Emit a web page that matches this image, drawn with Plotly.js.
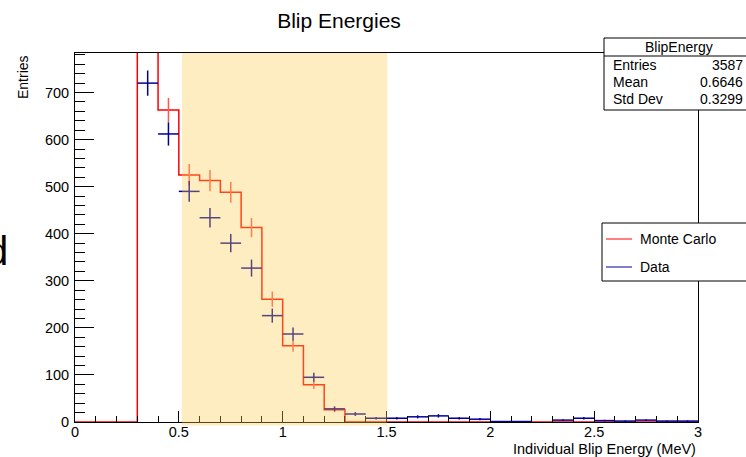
<!DOCTYPE html>
<html>
<head>
<meta charset="utf-8">
<script src="https://cdn.plot.ly/plotly-3.0.1.min.js"></script>
<style>html,body{margin:0;padding:0;background:#fff;}#chart{width:746px;height:457px;}</style>
</head>
<body>
<div id="chart"></div>
<script>
// ---- data ----
const binEdges = [0.0,0.1,0.2,0.3,0.4,0.5,0.6,0.7,0.8,0.9,1.0,1.1,1.2,1.3,1.4,1.5,1.6,1.7,1.8,1.9,2.0,2.1,2.2,2.3,2.4,2.5,2.6,2.7,2.8,2.9,3.0];
const binCenters = [0.05,0.15,0.25,0.35,0.45,0.55,0.65,0.75,0.85,0.95,1.05,1.15,1.25,1.35,1.45,1.55,1.65,1.75,1.85,1.95,2.05,2.15,2.25,2.35,2.45,2.55,2.65,2.75,2.85,2.95];
const monteCarlo = [0,0,0,1000,663,525,513,488,413,261,162,79,26,0,0,0,0,0,0,0,0,0,0,0,0,0,0,0,0,0];
const dataCounts = [null,null,null,720,612,490,434,380,327,226,187,95,28,17,8,8,11,13,8,6,1,1,null,4,8,3,2,4,2,2];
const xTickVals = [0,0.5,1,1.5,2,2.5,3];
const xTickText = ["0","0.5","1","1.5","2","2.5","3"];
const yTickVals = [0,100,200,300,400,500,600,700];
const yTickText = ["0","100","200","300","400","500","600","700"];
const statNames = ["Entries","Mean","Std Dev"];
const statValues = ["3587","0.6646","0.3299"];
const legendNames = ["Monte Carlo","Data"];

// ---- styles ----
const FONT = "'Liberation Sans', Arial, Helvetica, sans-serif";
const RED = "#ff0000";
const NAVY = "#000099";
const L = 75, T = 53, W = 623, H = 369;
const px = x => (x - L) / W;
const py = y => (T + H - y) / H;

// step line for MC built from bin edges
const mcStepY = monteCarlo.concat([monteCarlo[monteCarlo.length - 1]]);

const traces = [
  {
    type: "scatter", mode: "lines", x: binEdges, y: mcStepY,
    line: {shape: "hv", color: RED, width: 1.5}, showlegend: false, hoverinfo: "skip"
  },
  {
    type: "scatter", mode: "markers", x: binCenters,
    y: monteCarlo.map(v => v > 0 ? v : null),
    marker: {size: 1, color: "rgba(0,0,0,0)"},
    error_y: {type: "data", array: monteCarlo.map(v => Math.sqrt(v)), color: "#ff5555", thickness: 1.5, width: 0},
    showlegend: false, hoverinfo: "skip"
  },
  {
    type: "scatter", mode: "markers", x: binCenters, y: dataCounts,
    marker: {size: 1, color: "rgba(0,0,0,0)"},
    error_y: {type: "data", array: dataCounts.map(v => v == null ? 0 : Math.sqrt(v)), color: NAVY, thickness: 1.5, width: 0},
    error_x: {type: "constant", value: 0.05, color: NAVY, thickness: 1.5, width: 0},
    showlegend: false, hoverinfo: "skip"
  }
];

const shapes = [
  // highlighted band overlay
  {type: "rect", layer: "above", xref: "x", yref: "paper", x0: 0.515, x1: 1.504, y0: -0.0095, y1: 1.0,
   fillcolor: "rgb(252,203,72)", opacity: 0.345, line: {width: 0}},
  // stats box
  {type: "rect", xref: "paper", yref: "paper", x0: px(604), x1: px(754), y0: py(110), y1: py(38),
   fillcolor: "#ffffff", line: {color: "#000", width: 1}},
  {type: "line", xref: "paper", yref: "paper", x0: px(604), x1: px(754), y0: py(56), y1: py(56),
   line: {color: "#000", width: 1}},
  // legend box
  {type: "rect", xref: "paper", yref: "paper", x0: px(602), x1: px(800), y0: py(281), y1: py(223),
   fillcolor: "#ffffff", line: {color: "#000", width: 1}},
  {type: "line", xref: "paper", yref: "paper", x0: px(606), x1: px(632), y0: py(239), y1: py(239),
   line: {color: RED, width: 1}},
  {type: "line", xref: "paper", yref: "paper", x0: px(606), x1: px(632), y0: py(267), y1: py(267),
   line: {color: NAVY, width: 1}}
];

const ann = (text, x, y, xa, size, extra) => Object.assign({
  text: text, xref: "paper", yref: "paper", x: px(x), y: py(y), xanchor: xa, yanchor: "middle",
  showarrow: false, font: {family: FONT, size: size, color: "#000"}
}, extra || {});

const annotations = [
  ann("Entries", 23, 53, "center", 14, {textangle: -90, yanchor: "top"}),
  ann("Individual Blip Energy (MeV)", 698, 448.5, "right", 14.5),
  ann("BlipEnergy", 679, 47, "center", 14),
  ann(statNames[0], 611, 65, "left", 14),
  ann(statNames[1], 611, 82, "left", 14),
  ann(statNames[2], 611, 99.5, "left", 14),
  ann(statValues[0], 745, 65, "right", 14),
  ann(statValues[1], 745, 82, "right", 14),
  ann(statValues[2], 745, 99.5, "right", 14),
  ann(legendNames[0], 638, 239, "left", 14),
  ann(legendNames[1], 638, 267, "left", 14),
  ann("d", 10, 251, "right", 40)
];

const layout = {
  width: 746, height: 457,
  margin: {l: L, r: 746 - L - W, t: T, b: 457 - T - H, pad: 0},
  paper_bgcolor: "#fff", plot_bgcolor: "#fff",
  title: {text: "Blip Energies", xref: "container", yref: "container", x: 339 / 746, xanchor: "center",
          y: 1 - 20.5 / 457, yanchor: "middle", font: {family: FONT, size: 21, color: "#000"}},
  xaxis: {
    range: [0, 3], tickvals: xTickVals, ticktext: xTickText,
    ticks: "inside", ticklen: 11, tickwidth: 1, tickcolor: "#000",
    minor: {dtick: 0.1, tick0: 0, ticks: "inside", ticklen: 6, tickwidth: 1, tickcolor: "#000", showgrid: false},
    showline: true, linecolor: "#000", linewidth: 1, mirror: true,
    showgrid: false, zeroline: false, fixedrange: true,
    tickfont: {family: FONT, size: 14.5, color: "#000"}, ticklabelstandoff: -3
  },
  yaxis: {
    range: [0, 784], tickvals: yTickVals, ticktext: yTickText,
    ticks: "inside", ticklen: 19, tickwidth: 1, tickcolor: "#000",
    minor: {dtick: 20, tick0: 0, ticks: "inside", ticklen: 10, tickwidth: 1, tickcolor: "#000", showgrid: false},
    showline: true, linecolor: "#000", linewidth: 1, mirror: true,
    showgrid: false, zeroline: false, fixedrange: true,
    tickfont: {family: FONT, size: 14.5, color: "#000"}, ticklabelstandoff: 2
  },
  shapes: shapes,
  annotations: annotations,
  showlegend: false
};

Plotly.newPlot("chart", traces, layout, {staticPlot: true, displayModeBar: false});
</script>
</body>
</html>
